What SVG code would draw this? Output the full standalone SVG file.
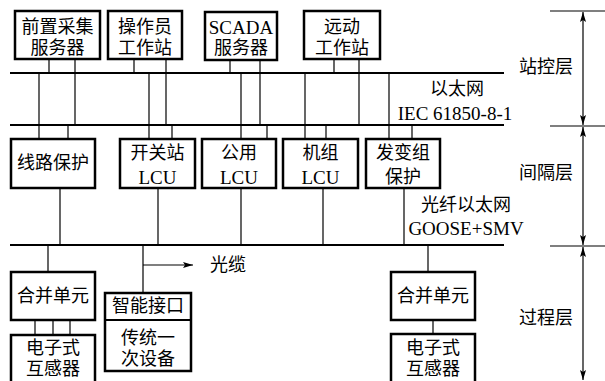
<svg xmlns="http://www.w3.org/2000/svg" width="605" height="381" viewBox="0 0 605 381">
<style>
.box{fill:#fff;stroke:#000;stroke-width:2.5}
.bus{stroke:#000;stroke-width:2.2;fill:none}
.ln{stroke:#000;stroke-width:1.2;fill:none}
.t{font-family:"Liberation Serif","Noto Sans CJK SC",serif;font-size:19px;fill:#000;text-anchor:middle;dominant-baseline:central}
.c{font-family:"Liberation Serif","Noto Sans CJK SC",sans-serif;font-size:18px;fill:#000;text-anchor:middle;dominant-baseline:central}
.s{font-size:19px}
</style>
<defs>
<marker id="ah" viewBox="0 0 10 6" refX="10" refY="3" markerWidth="10" markerHeight="6" markerUnits="userSpaceOnUse" orient="auto-start-reverse">
<path d="M0,0 L10,3 L0,6 L2,3 Z" fill="#000"/>
</marker>
</defs>
<rect width="605" height="381" fill="#fff"/>
<g id="connectors">
<line class="bus" x1="10" y1="73" x2="504" y2="73"/>
<line class="bus" x1="10" y1="125" x2="504" y2="125"/>
<line class="bus" x1="10" y1="245" x2="504" y2="245"/>
<line class="ln" x1="49" y1="59" x2="49" y2="73"/>
<line class="ln" x1="75" y1="59" x2="75" y2="125"/>
<line class="ln" x1="134" y1="59" x2="134" y2="73"/>
<line class="ln" x1="166" y1="59" x2="166" y2="125"/>
<line class="ln" x1="230" y1="60" x2="230" y2="73"/>
<line class="ln" x1="260" y1="60" x2="260" y2="125"/>
<line class="ln" x1="334" y1="59" x2="334" y2="73"/>
<line class="ln" x1="359" y1="59" x2="359" y2="125"/>
<line class="ln" x1="39" y1="73" x2="39" y2="139"/>
<line class="ln" x1="68" y1="125" x2="68" y2="139"/>
<line class="ln" x1="149" y1="73" x2="149" y2="139"/>
<line class="ln" x1="172" y1="125" x2="172" y2="139"/>
<line class="ln" x1="241" y1="73" x2="241" y2="139"/>
<line class="ln" x1="267" y1="125" x2="267" y2="139"/>
<line class="ln" x1="305" y1="73" x2="305" y2="139"/>
<line class="ln" x1="326" y1="125" x2="326" y2="139"/>
<line class="ln" x1="389" y1="73" x2="389" y2="139"/>
<line class="ln" x1="412" y1="125" x2="412" y2="139"/>
<line class="ln" x1="60" y1="188" x2="60" y2="245"/>
<line class="ln" x1="158" y1="188" x2="158" y2="245"/>
<line class="ln" x1="241" y1="188" x2="241" y2="245"/>
<line class="ln" x1="323" y1="188" x2="323" y2="245"/>
<line class="ln" x1="404" y1="188" x2="404" y2="245"/>
<line class="ln" x1="48" y1="245" x2="48" y2="272"/>
<line class="ln" x1="143" y1="245" x2="143" y2="293"/>
<line class="ln" x1="143" y1="265" x2="193" y2="265" marker-end="url(#ah)"/>
<line class="ln" x1="428" y1="245" x2="428" y2="272"/>
<line class="ln" x1="35" y1="320" x2="35" y2="335"/>
<line class="ln" x1="53" y1="320" x2="53" y2="335"/>
<line class="ln" x1="70" y1="320" x2="70" y2="335"/>
<line class="ln" x1="433" y1="320" x2="433" y2="334"/>
<line class="ln" x1="550" y1="11" x2="605" y2="11"/>
<line class="ln" x1="550" y1="126" x2="605" y2="126"/>
<line class="ln" x1="550" y1="246" x2="605" y2="246"/>
<line class="ln" x1="583" y1="12" x2="583" y2="125" marker-start="url(#ah)" marker-end="url(#ah)"/>
<line class="ln" x1="583" y1="127" x2="583" y2="245" marker-start="url(#ah)" marker-end="url(#ah)"/>
<line class="ln" x1="583" y1="247" x2="583" y2="380" marker-start="url(#ah)" marker-end="url(#ah)"/>
</g>
<g id="n1"><rect class="box" x="15" y="11" width="85" height="48"/><text class="c"><tspan x="57.5" y="27">前置采集</tspan><tspan x="57.5" y="48">服务器</tspan></text></g>
<g id="n2"><rect class="box" x="108" y="11" width="74" height="48"/><text class="c"><tspan x="145" y="27">操作员</tspan><tspan x="145" y="48">工作站</tspan></text></g>
<g id="n3"><rect class="box" x="205" y="12" width="72" height="48"/><text class="c"><tspan class="s" x="241" y="27">SCADA</tspan><tspan x="241" y="48">服务器</tspan></text></g>
<g id="n4"><rect class="box" x="304" y="11" width="76" height="48"/><text class="c"><tspan x="342" y="27">远动</tspan><tspan x="342" y="48">工作站</tspan></text></g>
<g id="n5"><rect class="box" x="11" y="139" width="84" height="49"/><text class="c" x="53" y="163">线路保护</text></g>
<g id="n6"><rect class="box" x="120" y="139" width="75" height="49"/><text class="c"><tspan x="157.5" y="153">开关站</tspan><tspan class="s" x="157.5" y="177">LCU</tspan></text></g>
<g id="n7"><rect class="box" x="202" y="139" width="74" height="49"/><text class="c"><tspan x="239" y="153">公用</tspan><tspan class="s" x="239" y="177">LCU</tspan></text></g>
<g id="n8"><rect class="box" x="283" y="139" width="75" height="49"/><text class="c"><tspan x="320.5" y="153">机组</tspan><tspan class="s" x="320.5" y="177">LCU</tspan></text></g>
<g id="n9"><rect class="box" x="366" y="139" width="74" height="49"/><text class="c"><tspan x="403" y="153">发变组</tspan><tspan x="403" y="177">保护</tspan></text></g>
<g id="n10"><rect class="box" x="11" y="272" width="84" height="48"/><text class="c" x="53" y="296">合并单元</text></g>
<g id="n11"><rect class="box" x="11" y="335" width="84" height="55"/><text class="c"><tspan x="53" y="348">电子式</tspan><tspan x="53" y="369">互感器</tspan></text></g>
<g id="n12"><rect class="box" x="105" y="293" width="86" height="78"/><line class="ln" x1="105" y1="320" x2="191" y2="320" style="stroke-width:2"/><text class="c" x="148" y="306">智能接口</text><text class="c"><tspan x="148" y="338">传统一</tspan><tspan x="148" y="359">次设备</tspan></text></g>
<g id="n13"><rect class="box" x="391" y="272" width="84" height="48"/><text class="c" x="433" y="296">合并单元</text></g>
<g id="n14"><rect class="box" x="391" y="334" width="84" height="56"/><text class="c"><tspan x="433" y="348">电子式</tspan><tspan x="433" y="369">互感器</tspan></text></g>
<g id="labels">
<text class="c" x="457" y="89">以太网</text>
<text class="t" x="455" y="113">IEC 61850-8-1</text>
<text class="c" x="466" y="205">光纤以太网</text>
<text class="t" x="466" y="228">GOOSE+SMV</text>
<text class="c" x="228" y="265">光缆</text>
<text class="c" x="546" y="67">站控层</text>
<text class="c" x="546" y="173">间隔层</text>
<text class="c" x="546" y="318">过程层</text>
</g>
</svg>
